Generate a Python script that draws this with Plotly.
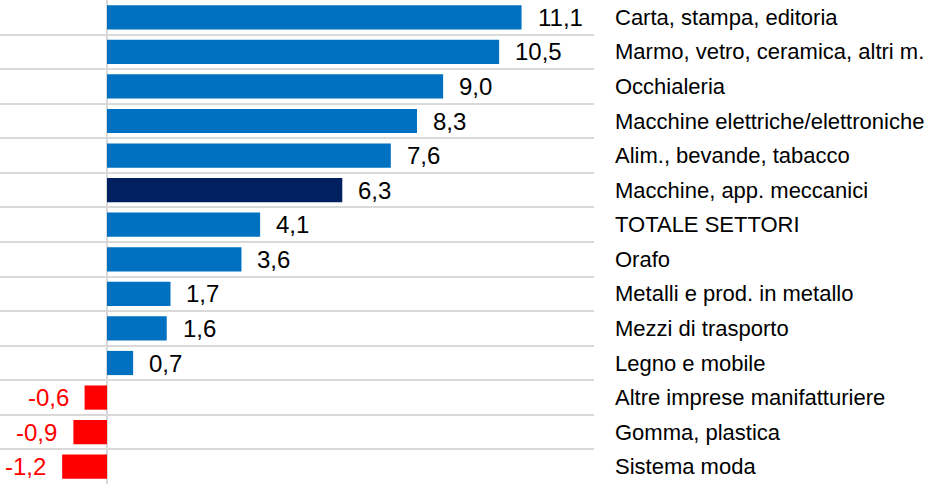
import plotly.graph_objects as go

categories = [
    "Carta, stampa, editoria",
    "Marmo, vetro, ceramica, altri m.",
    "Occhialeria",
    "Macchine elettriche/elettroniche",
    "Alim., bevande, tabacco",
    "Macchine, app. meccanici",
    "TOTALE SETTORI",
    "Orafo",
    "Metalli e prod. in metallo",
    "Mezzi di trasporto",
    "Legno e mobile",
    "Altre imprese manifatturiere",
    "Gomma, plastica",
    "Sistema moda",
]
values = [11.1, 10.5, 9.0, 8.3, 7.6, 6.3, 4.1, 3.6, 1.7, 1.6, 0.7, -0.6, -0.9, -1.2]
highlight = "Macchine, app. meccanici"

BLUE = "#0070C0"
NAVY = "#002060"
RED = "#FF0000"
FONT = "Liberation Sans, Arial, sans-serif"

pos = list(range(len(categories)))
colors = [RED if v < 0 else (NAVY if c == highlight else BLUE) for c, v in zip(categories, values)]

fig = go.Figure()
fig.add_trace(go.Bar(
    x=values, y=pos, orientation="h",
    marker=dict(color=colors, line=dict(width=0)),
    width=0.7, hoverinfo="skip",
))

annotations = []
for p, v, c in zip(pos, values, categories):
    label = f"{v:.1f}".replace(".", ",")
    if v >= 0:
        annotations.append(dict(x=v, y=p, xref="x", yref="y", text=label, showarrow=False,
                                xanchor="left", yanchor="middle", xshift=14,
                                font=dict(family=FONT, size=24, color="#000000")))
    else:
        annotations.append(dict(x=v, y=p, xref="x", yref="y", text=label, showarrow=False,
                                xanchor="right", yanchor="middle", xshift=-14,
                                font=dict(family=FONT, size=24, color=RED)))
    annotations.append(dict(x=1, y=p, xref="paper", yref="y", text=c, showarrow=False,
                            xanchor="left", yanchor="middle", xshift=19,
                            font=dict(family=FONT, size=22, color="#000000")))

n = len(categories)
fig.update_layout(
    width=928, height=484,
    margin=dict(l=0, r=334, t=0, b=0),
    paper_bgcolor="white", plot_bgcolor="white",
    showlegend=False,
    annotations=annotations,
    xaxis=dict(range=[-2.865, 13.04], showgrid=False, showticklabels=False, ticks="",
               zeroline=True, zerolinecolor="#d9d9d9", zerolinewidth=2, fixedrange=True),
    yaxis=dict(range=[n - 0.5, -0.5], tickmode="array",
               tickvals=[i - 0.5 for i in range(n + 1)],
               showticklabels=False, ticks="", showgrid=True,
               gridcolor="#d9d9d9", gridwidth=2, zeroline=False, fixedrange=True),
)

fig.write_html(
    "out.html",
    config={"displayModeBar": False},
    post_script="document.body.style.margin='0';document.body.style.overflow='hidden';",
)
